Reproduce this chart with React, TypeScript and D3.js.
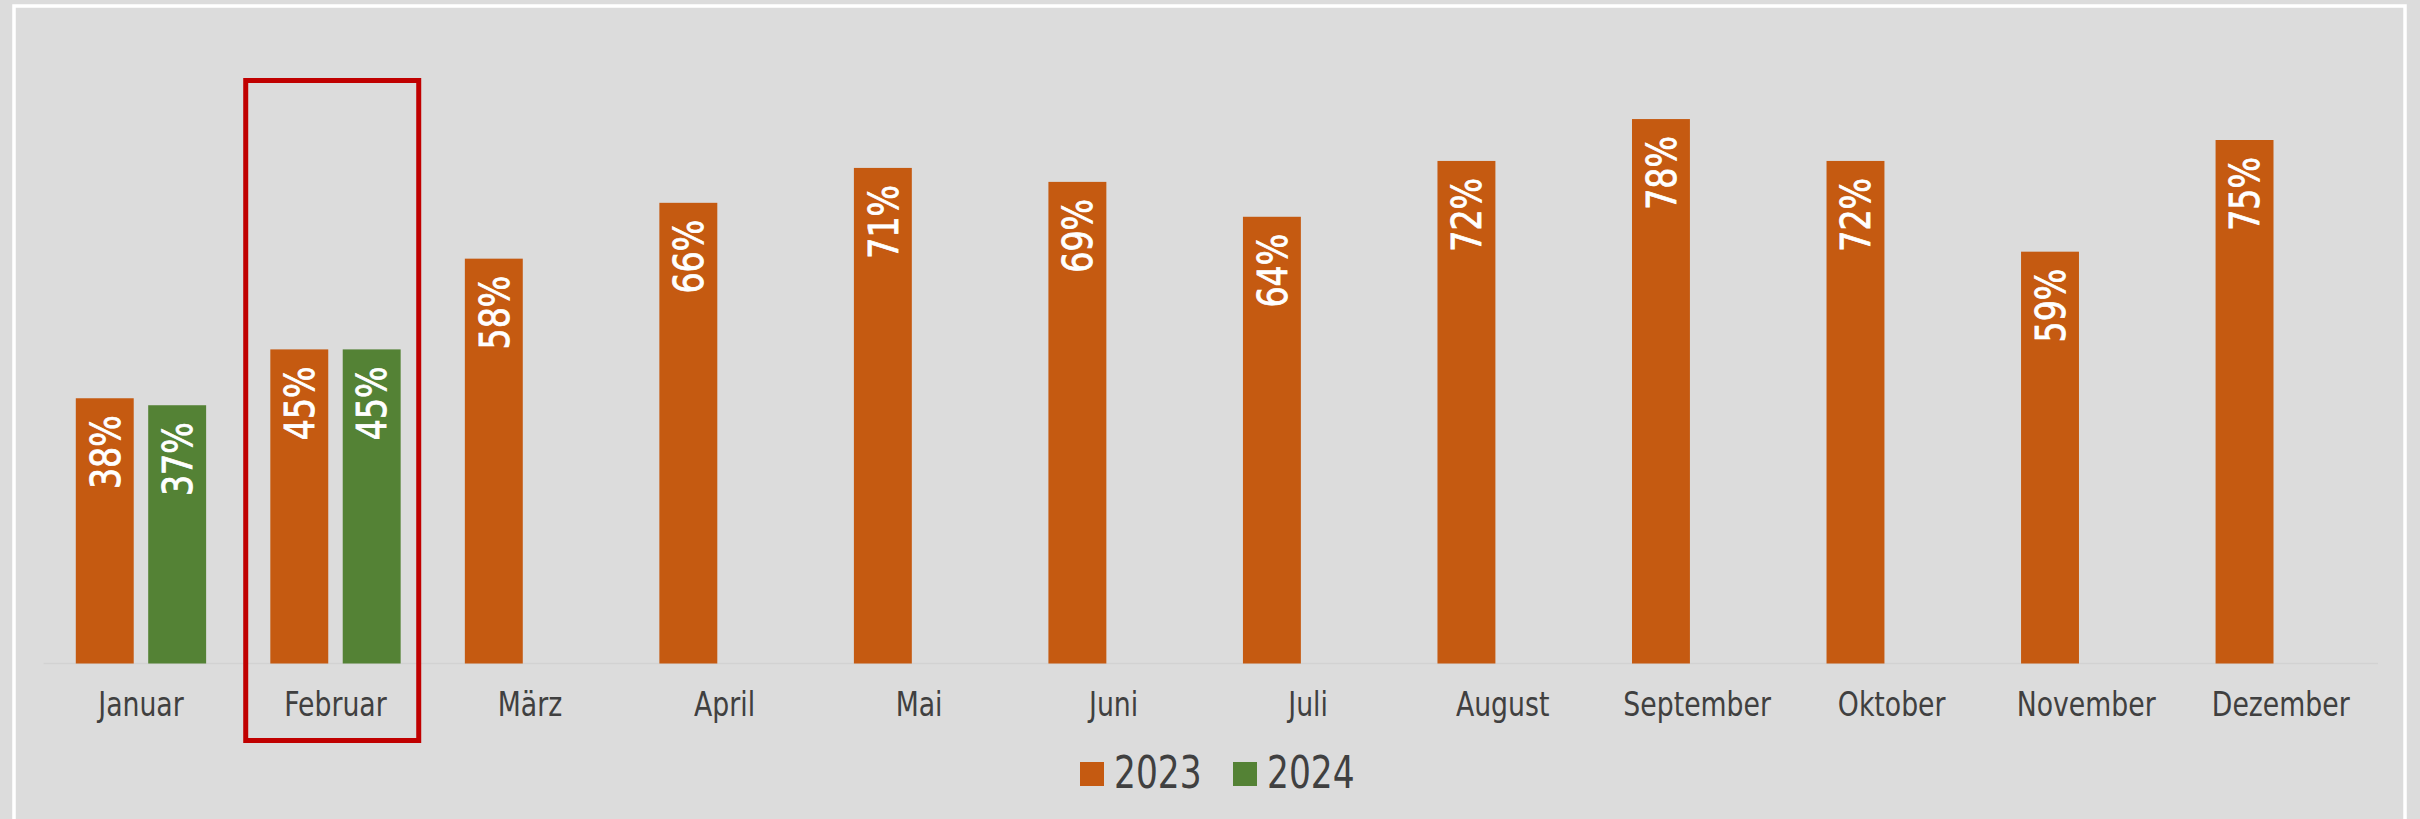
import React from "react";
import * as d3 from "d3";

const months = ["Januar", "Februar", "März", "April", "Mai", "Juni", "Juli", "August", "September", "Oktober", "November", "Dezember"];
const series = ["2023", "2024"];
const values2023 = [0.38, 0.45, 0.58, 0.66, 0.71, 0.69, 0.64, 0.72, 0.78, 0.72, 0.59, 0.75];
const values2024: (number | null)[] = [0.37, 0.45, null, null, null, null, null, null, null, null, null, null];
const colors = ["#c55a11", "#548235"];
const highlighted = "Februar";

const W = 2420;
const H = 819;
const FONT = "'DejaVu Sans Condensed', 'Liberation Sans Narrow', sans-serif";

export default function App() {
  const x0 = d3.scaleBand<string>().domain(months).range([43.7, 2378]).paddingInner(0).paddingOuter(0);
  const bw = x0.bandwidth();
  const x1 = d3.scaleBand<string>().domain(series).range([bw * 0.165, bw * 0.835]).paddingInner(0.2);
  const y = d3.scaleLinear().domain([0, 0.9]).range([663.5, 35.3]);
  const fmt = d3.format(".0%");
  const data = [values2023, values2024];

  const fx = x0(highlighted)!;

  return (
    <svg width={W} height={H} style={{ position: "absolute", left: 0, top: 0 }} fontFamily={FONT}>
      <rect x={0} y={0} width={W} height={H} fill="#dcdcdc" />
      <rect x={14} y={6} width={2391} height={H + 20} fill="none" stroke="#ffffff" strokeWidth={3.5} />
      <line x1={43.7} x2={2378} y1={y(0)} y2={y(0)} stroke="#d2d2d2" strokeWidth={1.5} />
      {series.map((s, si) =>
        months.map((m, i) => {
          const v = data[si][i];
          if (v == null) return null;
          const bx = x0(m)! + x1(s)!;
          const cx = bx + x1.bandwidth() / 2;
          const top = y(v);
          return (
            <g key={s + m}>
              <rect x={bx} y={top} width={x1.bandwidth()} height={y(0) - top} fill={colors[si]} />
              <text
                transform={`translate(${cx},${top + 17}) rotate(-90) scale(0.9,1)`}
                textAnchor="end"
                dy="0.36em"
                fill="#ffffff"
                stroke="#ffffff"
                strokeWidth={0.8}
                fontSize={41}
              >
                {fmt(v)}
              </text>
            </g>
          );
        })
      )}
      {months.map((m) => (
        <text
          key={m}
          transform={`translate(${x0(m)! + bw / 2},716) scale(0.9,1)`}
          textAnchor="middle"
          fill="#404040"
          fontSize={33}
        >
          {m}
        </text>
      ))}
      <rect x={fx + 7.5} y={80.5} width={173} height={660} fill="none" stroke="#c00000" strokeWidth={5} />
      {series.map((s, si) => {
        const lx = 1080 + si * 153;
        return (
          <g key={s}>
            <rect x={lx} y={762} width={24} height={24} fill={colors[si]} />
            <text transform={`translate(${lx + 34},788) scale(0.85,1)`} fill="#404040" fontSize={45}>
              {s}
            </text>
          </g>
        );
      })}
    </svg>
  );
}
